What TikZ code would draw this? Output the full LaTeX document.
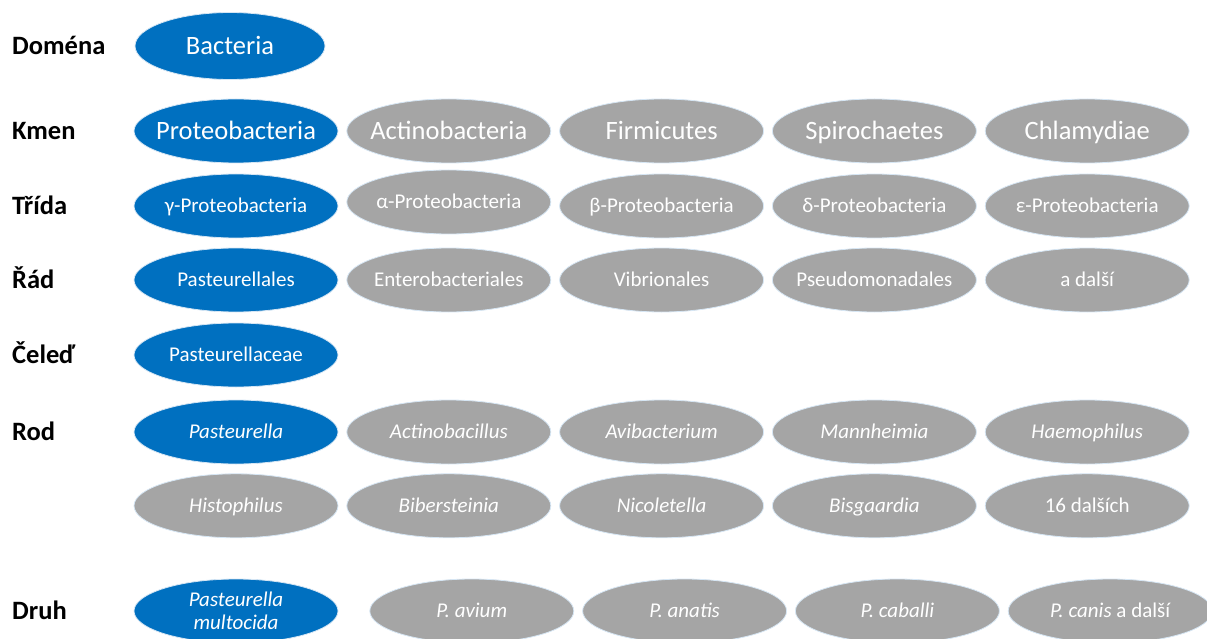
\documentclass[tikz,border=0pt]{standalone}
\usepackage{fontspec}
\setmainfont{Carlito}
\usetikzlibrary{positioning, shapes.geometric}

\definecolor{taxblue}{HTML}{0070C0}
\definecolor{taxgray}{HTML}{A5A5A5}
\definecolor{taxglow}{HTML}{D6E6F4}

% text of zero width, so the ellipse keeps its given size
\newcommand{\zb}[1]{\makebox[0pt]{#1}}

\begin{document}
\begin{tikzpicture}[
    x=1pt, y=-1pt,
    node distance=8pt,
    rank/.style={anchor=west, inner sep=0pt, text height=17pt, text depth=0pt, font=\fontsize{26.5}{30}\selectfont\bfseries},
    taxon/.style={ellipse, inner sep=0pt, minimum width=204pt, minimum height=64pt, text height=13.5pt, text depth=0pt, text=white, draw=taxglow, line width=0.8pt, font=\fontsize{21}{23}\selectfont},
    selt/.style={taxon, fill=taxblue},
    othr/.style={taxon, fill=taxgray},
    big/.style={text height=17pt, font=\fontsize{26.5}{30}\selectfont},
]
\useasboundingbox (0,0) rectangle (1207,639);

% rank names
\node [rank] (r_dom) at (12,46) {Doména};
\node [rank] (r_kmen) at (12,131) {Kmen};
\node [rank] (r_trida) at (12,206) {Třída};
\node [rank] (r_rad) at (12,280) {Řád};
\node [rank] (r_celed) at (12,355) {Čeleď};
\node [rank] (r_rod) at (12,432) {Rod};
\node [rank] (r_druh) at (12,611) {Druh};

% domena
\node [selt, big, minimum width=190pt, minimum height=67pt] (bact) at (230,46) {\zb{Bacteria}};

% kmen
\node [selt, big] (prot) at (236,131) {\zb{Proteobacteria}};
\node [othr, big, right=of prot] (actino) {\zb{Actinobacteria}};
\node [othr, big, right=of actino] (firmi) {\zb{Firmicutes}};
\node [othr, big, right=of firmi] (spiro) {\zb{Spirochaetes}};
\node [othr, big, right=of spiro] (chlam) {\zb{Chlamydiae}};

% trida
\node [selt] (gamma) at (236,206) {\zb{γ-Proteobacteria}};
\node [othr, right=of gamma, yshift=4pt] (alpha) {\zb{α-Proteobacteria}};
\node [othr, right=of alpha, yshift=-4pt] (beta) {\zb{β-Proteobacteria}};
\node [othr, right=of beta] (delta) {\zb{δ-Proteobacteria}};
\node [othr, right=of delta] (epsil) {\zb{ε-Proteobacteria}};

% rad
\node [selt] (pastles) at (236,280) {\zb{Pasteurellales}};
\node [othr, right=of pastles] (entero) {\zb{Enterobacteriales}};
\node [othr, right=of entero] (vibrio) {\zb{Vibrionales}};
\node [othr, right=of vibrio] (pseudo) {\zb{Pseudomonadales}};
\node [othr, right=of pseudo] (rad_dal) {\zb{a další}};

% celed
\node [selt] (pastceae) at (236,355) {\zb{Pasteurellaceae}};

% rod
\node [selt] (past) at (236,432) {\zb{\itshape Pasteurella}};
\node [othr, right=of past] (actbac) {\zb{\itshape Actinobacillus}};
\node [othr, right=of actbac] (avibac) {\zb{\itshape Avibacterium}};
\node [othr, right=of avibac] (mannh) {\zb{\itshape Mannheimia}};
\node [othr, right=of mannh] (haemo) {\zb{\itshape Haemophilus}};
\node [othr, below=9pt of past] (histo) {\zb{\itshape Histophilus}};
\node [othr, right=of histo] (bibers) {\zb{\itshape Bibersteinia}};
\node [othr, right=of bibers] (nicol) {\zb{\itshape Nicoletella}};
\node [othr, right=of nicol] (bisg) {\zb{\itshape Bisgaardia}};
\node [othr, right=of bisg] (rod_dal) {\zb{16 dalších}};

% druh
\node [selt, text depth=23pt] (multo) at (236,611)
  {\zb{\itshape\begin{tabular}[t]{@{}c@{}}Pasteurella\\multocida\end{tabular}}};
\node [othr, right=31pt of multo] (avium) {\zb{\itshape P. avium}};
\node [othr, right=of avium] (anatis) {\zb{\itshape P. anatis}};
\node [othr, right=of anatis] (caballi) {\zb{\itshape P. caballi}};
\node [othr, right=of caballi] (canis) {\zb{\textit{P. canis} a další}};

\end{tikzpicture}
\end{document}
